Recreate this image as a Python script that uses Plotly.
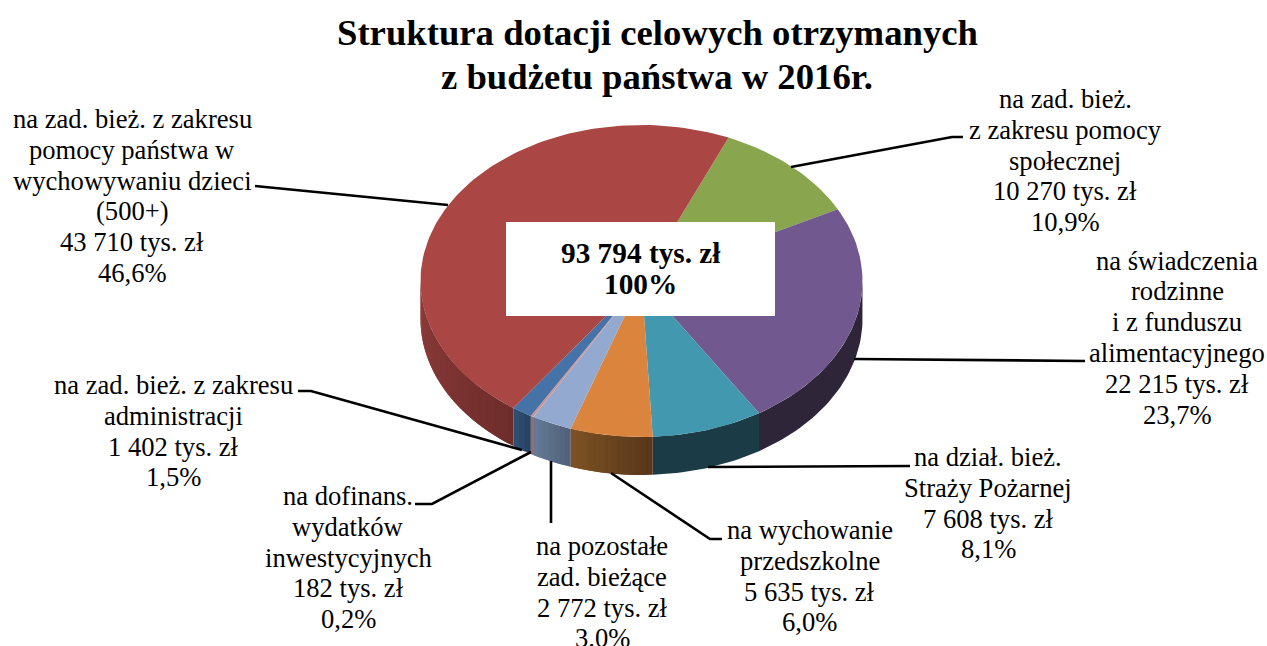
import math
import plotly.graph_objects as go

# ---------- data ----------
title_lines = ["Struktura dotacji celowych otrzymanych", "z budżetu państwa w 2016r."]
total_lines = ["93 794 tys. zł", "100%"]
label_lines = [
    ["na zad. bież.", "z zakresu pomocy", "społecznej"],
    ["na świadczenia", "rodzinne", "i z funduszu", "alimentacyjnego"],
    ["na dział. bież.", "Straży Pożarnej"],
    ["na wychowanie", "przedszkolne"],
    ["na pozostałe", "zad. bieżące"],
    ["na dofinans.", "wydatków", "inwestycyjnych"],
    ["na zad. bież. z zakresu", "administracji"],
    ["na zad. bież. z zakresu", "pomocy państwa w", "wychowywaniu dzieci", "(500+)"],
]
values = [10270, 22215, 7608, 5635, 2772, 182, 1402, 43710]
percents = ["10,9%", "23,7%", "8,1%", "6,0%", "3.0%", "0,2%", "1,5%", "46,6%"]
top_colors = ["#89A54E", "#71588F", "#4198AF", "#DB843D", "#93A9CF", "#D19392", "#4572A7", "#AA4644"]
side_left = ["#5C6F34", "#2E2539", "#1B3C47", "#7E5224", "#677B98", "#9A6B6A", "#2F5078", "#8E3C3A"]
side_right = ["#5C6F34", "#2E2539", "#1B3C47", "#573619", "#4F6078", "#9A6B6A", "#28425F", "#6E2D2B"]

# ---------- layout constants ----------
W, H = 1267, 646
CX, CY, RX, RY, DEPTH = 641.5, 281.0, 221.0, 156.0, 38.0
START_DEG = 23.2
FONT = "Liberation Serif"
LABEL_SIZE, LABEL_STEP = 26.6, 30.8
label_anchor = [(1065, 99), (1177, 260.5), (988, 457), (809.5, 530),
                (602, 546), (348, 496), (173, 385), (132, 119)]
leaders = [
    [(791, 167), (952, 137), (963, 137)],
    [(854, 359), (1085, 361)],
    [(708, 467), (910, 466)],
    [(611, 473), (710, 539), (722, 539)],
    [(551, 461), (551, 523)],
    [(531, 452), (432, 504), (415, 504)],
    [(522, 450), (311, 391), (298, 391)],
    [(448, 205), (255, 186)],
]


def pt(deg, dy=0.0):
    a = math.radians(deg)
    return CX + RX * math.sin(a), CY - RY * math.cos(a) + dy


def mix(c1, c2, t):
    a = [int(c1[i:i + 2], 16) for i in (1, 3, 5)]
    b = [int(c2[i:i + 2], 16) for i in (1, 3, 5)]
    return "#%02x%02x%02x" % tuple(round(p + (q - p) * t) for p, q in zip(a, b))


fig = go.Figure()
total = sum(values)
spans = []
acc = START_DEG
for v in values:
    spans.append((acc, acc + v / total * 360))
    acc += v / total * 360


def polygon(pts, color):
    fig.add_trace(go.Scatter(x=[p[0] for p in pts], y=[p[1] for p in pts], mode="lines",
                             fill="toself", fillcolor=color, line=dict(width=0),
                             hoverinfo="skip", showlegend=False))


def wall(s0, s1, color):
    n = max(2, int((s1 - s0) / 1.5))
    top = [pt(s0 + (s1 - s0) * k / n) for k in range(n + 1)]
    bot = [pt(s1 - (s1 - s0) * k / n, DEPTH) for k in range(n + 1)]
    polygon(top + bot + [top[0]], color)


# side wall: only the part facing the viewer (90..270 degrees)
for (a0, a1), cl, cr in zip(spans, side_left, side_right):
    lo, hi = max(a0, 90), min(a1, 270)
    if hi <= lo:
        continue
    if cl == cr:
        wall(lo, hi, cl)
        continue
    n = max(1, int((hi - lo) / 1.5))
    for i in range(n):
        s0 = lo + (hi - lo) * i / n
        s1 = lo + (hi - lo) * (i + 1) / n
        # gradient runs left to right on screen, i.e. from high angle to low angle;
        # every strip overlaps the next one to avoid anti-aliasing seams
        wall(s0, min(s1 + 1.5, hi), mix(cl, cr, 1 - (i + 0.5) / n))

# top face
for (a0, a1), col in zip(spans, top_colors):
    n = max(2, int((a1 - a0) / 1.5))
    polygon([(CX, CY)] + [pt(a0 + (a1 - a0) * k / n) for k in range(n + 1)] + [(CX, CY)], col)

shapes = []
for seg in leaders:
    path = "M " + " L ".join(f"{x} {y}" for x, y in seg)
    shapes.append(dict(type="path", path=path, line=dict(color="#000000", width=2.6),
                       xref="x", yref="y", layer="above"))
shapes.append(dict(type="rect", x0=506, x1=775, y0=222, y1=316, xref="x", yref="y",
                   fillcolor="#FFFFFF", line=dict(width=0), layer="above"))

annotations = []


def text_line(x, y, s, size, bold=False):
    annotations.append(dict(x=x, y=y, xref="x", yref="y", showarrow=False, align="center",
                            xanchor="center", yanchor="middle",
                            text=f"<b>{s}</b>" if bold else s,
                            font=dict(family=FONT, size=size, color="#000000")))


for lines, v, pct, (ax, ay) in zip(label_lines, values, percents, label_anchor):
    money = f"{v:,}".replace(",", " ") + " tys. zł"
    for i, s in enumerate(lines + [money, pct]):
        text_line(ax, ay + i * LABEL_STEP, s, LABEL_SIZE)
for i, s in enumerate(total_lines):
    text_line(640.5, 253 + i * 31, s, 29.3, True)
for i, s in enumerate(title_lines):
    text_line(657, 32 + i * 44, s, 36.7, True)

fig.update_layout(
    width=W, height=H, margin=dict(l=0, r=0, t=0, b=0),
    paper_bgcolor="#FFFFFF", plot_bgcolor="#FFFFFF", showlegend=False,
    xaxis=dict(range=[0, W], visible=False, fixedrange=True),
    yaxis=dict(range=[H, 0], visible=False, fixedrange=True),
    shapes=shapes, annotations=annotations,
)
fig.write_html("out.html", config={"displayModeBar": False},
               post_script="document.body.style.margin='0';document.documentElement.style.overflow='hidden';")
